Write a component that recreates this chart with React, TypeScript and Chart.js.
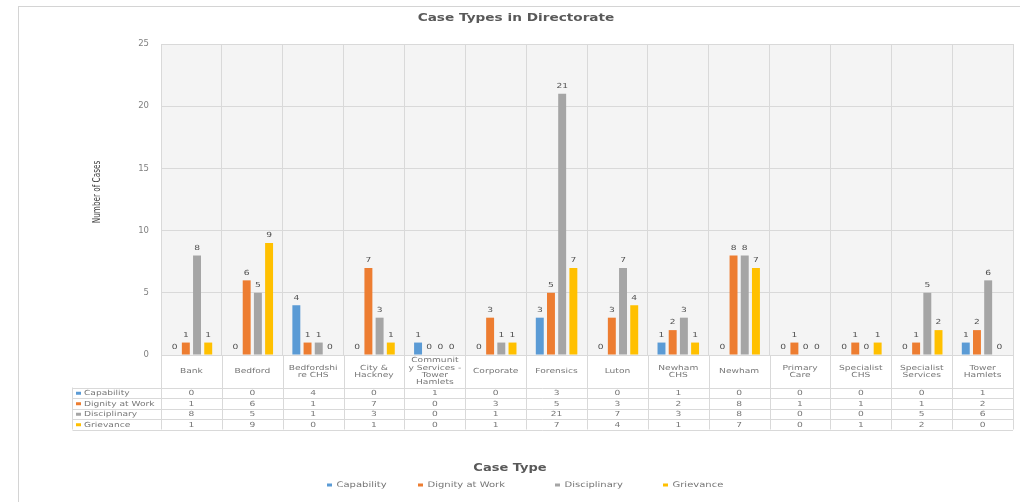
import React, { useEffect, useRef } from 'react';
import { Chart, registerables } from 'chart.js';

Chart.register(...registerables);

const chartTitle = 'Case Types in Directorate';
const xAxisTitle = 'Case Type';
const yAxisTitle = 'Number of Cases';

const categories = [
  'Bank', 'Bedford', 'Bedfordshire CHS', 'City & Hackney', 'Community Services - Tower Hamlets',
  'Corporate', 'Forensics', 'Luton', 'Newham CHS', 'Newham', 'Primary Care',
  'Specialist CHS', 'Specialist Services', 'Tower Hamlets',
];
const categoryLines = [
  ['Bank'], ['Bedford'], ['Bedfordshi', 're CHS'], ['City &', 'Hackney'],
  ['Communit', 'y Services -', 'Tower', 'Hamlets'], ['Corporate'], ['Forensics'], ['Luton'],
  ['Newham', 'CHS'], ['Newham'], ['Primary', 'Care'], ['Specialist', 'CHS'],
  ['Specialist', 'Services'], ['Tower', 'Hamlets'],
];

const capability = [0, 0, 4, 0, 1, 0, 3, 0, 1, 0, 0, 0, 0, 1];
const dignityAtWork = [1, 6, 1, 7, 0, 3, 5, 3, 2, 8, 1, 1, 1, 2];
const disciplinary = [8, 5, 1, 3, 0, 1, 21, 7, 3, 8, 0, 0, 5, 6];
const grievance = [1, 9, 0, 1, 0, 1, 7, 4, 1, 7, 0, 1, 2, 0];

const seriesNames = ['Capability', 'Dignity at Work', 'Disciplinary', 'Grievance'];
const seriesValues = [capability, dignityAtWork, disciplinary, grievance];
const seriesColors = ['#5B9BD5', '#ED7D31', '#A5A5A5', '#FFC000'];

const yMin = 0;
const yMax = 25;
const yStep = 5;

const FONT = '"DejaVu Sans", Verdana, sans-serif';
const TEXT = '#595959';
const LIGHT = '#767676';
const GRID = '#d9d9d9';
const SX = 1.3;

function drawText(
  ctx: CanvasRenderingContext2D, text: string, x: number, y: number,
  font: string, color: string, align: CanvasTextAlign, sx = 1, rot = 0,
) {
  ctx.save();
  ctx.translate(x, y);
  if (rot) ctx.rotate(rot);
  ctx.scale(sx, 1);
  ctx.font = font;
  ctx.fillStyle = color;
  ctx.textAlign = align;
  ctx.textBaseline = 'middle';
  ctx.fillText(text, 0, 0);
  ctx.restore();
}

const decorPlugin = {
  id: 'decor',
  beforeDraw(chart: any) {
    const { ctx, chartArea: a } = chart;
    ctx.save();
    ctx.fillStyle = '#ffffff';
    ctx.fillRect(0, 0, chart.width, chart.height);
    ctx.strokeStyle = '#d4d4d4';
    ctx.lineWidth = 1;
    ctx.strokeRect(18.5, 6.5, chart.width, chart.height);
    ctx.fillStyle = '#f4f4f4';
    ctx.fillRect(a.left, a.top, a.right - a.left, a.bottom - a.top);
    ctx.restore();
  },
  afterDatasetsDraw(chart: any) {
    const { ctx } = chart;
    chart.data.datasets.forEach((ds: any, di: number) => {
      const meta = chart.getDatasetMeta(di);
      meta.data.forEach((el: any, i: number) => {
        drawText(ctx, String(ds.data[i]), el.x, el.y - 7.5, `7px ${FONT}`, '#505050', 'center', SX);
      });
    });
  },
  afterDraw(chart: any) {
    const { ctx, chartArea: a } = chart;
    const xs = chart.scales.x;
    const n = categories.length;
    const colW = (a.right - a.left) / n;
    const tableTop = a.bottom;
    const rowTop = 387.5;
    const rowH = 10.5;
    const tableBottom = rowTop + rowH * seriesNames.length;
    const leftCol = 72.5;

    ctx.save();
    ctx.strokeStyle = GRID;
    ctx.lineWidth = 1;
    ctx.beginPath();
    for (let i = 0; i <= n; i++) {
      const x = Math.round(a.left + i * colW) + 0.5;
      ctx.moveTo(x, tableTop);
      ctx.lineTo(x, tableBottom);
    }
    ctx.moveTo(leftCol, rowTop);
    ctx.lineTo(leftCol, tableBottom);
    for (let r = 0; r <= seriesNames.length; r++) {
      const y = Math.round(rowTop + r * rowH) + 0.5;
      ctx.moveTo(leftCol, y);
      ctx.lineTo(a.right, y);
    }
    ctx.stroke();
    ctx.restore();

    // category labels
    categoryLines.forEach((lines, i) => {
      const cx = xs.getPixelForTick(i);
      const lh = 7.4;
      const cy = 371.5;
      lines.forEach((ln, k) => {
        const y = cy + (k - (lines.length - 1) / 2) * lh;
        drawText(ctx, ln, cx, y, `7px ${FONT}`, LIGHT, 'center', SX);
      });
    });

    // rows
    seriesNames.forEach((name, r) => {
      const cy = rowTop + r * rowH + rowH / 2 + 0.5;
      ctx.fillStyle = seriesColors[r];
      ctx.fillRect(76, cy - 1.5, 5, 3);
      drawText(ctx, name, 84, cy, `7px ${FONT}`, LIGHT, 'left', SX);
      seriesValues[r].forEach((v, i) => {
        drawText(ctx, String(v), xs.getPixelForTick(i), cy, `7px ${FONT}`, LIGHT, 'center', SX);
      });
    });

    // titles
    drawText(ctx, chartTitle, 516, 18, `bold 10.5px ${FONT}`, TEXT, 'center', SX);
    drawText(ctx, xAxisTitle, 510, 468, `bold 10px ${FONT}`, TEXT, 'center', SX);
    drawText(ctx, yAxisTitle, 97, 192, `11px ${FONT}`, '#404040', 'center', 0.66, -Math.PI / 2);

    // legend
    const legendX = [327, 418, 555, 663];
    seriesNames.forEach((name, r) => {
      const y = 485;
      ctx.fillStyle = seriesColors[r];
      ctx.fillRect(legendX[r], y - 1.5, 5, 3);
      drawText(ctx, name, legendX[r] + 9.5, y, `7.7px ${FONT}`, LIGHT, 'left', SX);
    });
  },
};

export default function App() {
  const ref = useRef<HTMLCanvasElement>(null);
  useEffect(() => {
    if (!ref.current) return;
    const chart = new Chart(ref.current, {
      type: 'bar',
      data: {
        labels: categories,
        datasets: seriesNames.map((name, i) => ({
          label: name,
          data: seriesValues[i],
          backgroundColor: seriesColors[i],
          categoryPercentage: 0.736,
          barPercentage: 0.71,
        })),
      },
      options: {
        responsive: false,
        animation: false,
        events: [],
        layout: { padding: { left: 0, right: 7, top: 44, bottom: 0 } },
        plugins: {
          legend: { display: false },
          title: { display: false },
          tooltip: { enabled: false },
        },
        scales: {
          x: {
            grid: { color: GRID, drawTicks: false, offset: true },
            border: { display: false },
            ticks: { display: false },
            afterFit: (s: any) => { s.height = 147; },
          },
          y: {
            min: yMin,
            max: yMax,
            ticks: { stepSize: yStep, padding: 12, color: '#808080', font: { size: 8.5, family: FONT } },
            grid: { color: GRID, drawTicks: false },
            border: { display: false },
            afterFit: (s: any) => { s.width = 161; },
          },
        },
      },
      plugins: [decorPlugin],
    });
    return () => chart.destroy();
  }, []);
  return (
    <div style={{ position: 'absolute', left: 0, top: 0 }}>
      <canvas ref={ref} width={1020} height={502} style={{ display: 'block' }} />
    </div>
  );
}
